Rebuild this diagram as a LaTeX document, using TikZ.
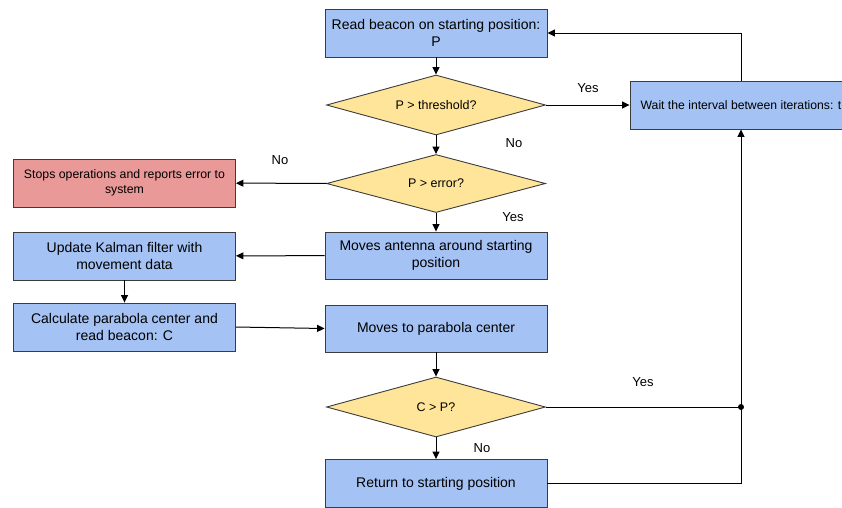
\documentclass[tikz,border=0pt]{standalone}
\usepackage{fontspec}
\setmainfont{Liberation Sans}
\usetikzlibrary{shapes.geometric,arrows.meta}
\definecolor{boxblue}{HTML}{A4C2F4}
\definecolor{askyellow}{HTML}{FFE599}
\definecolor{stopred}{HTML}{EA9999}
\definecolor{rim}{HTML}{3C3C3C}
\begin{document}
\begin{tikzpicture}[x=1pt,y=-1pt,
  stepbox/.style={draw=rim,fill=boxblue,line width=0.9pt,minimum width=222pt,minimum height=48pt,inner sep=2pt,align=center,font=\fontsize{14}{17}\selectfont},
  askbox/.style={diamond,aspect=3.6,draw=rim,fill=askyellow,line width=0.9pt,minimum width=219pt,minimum height=60pt,inner sep=0pt,font=\fontsize{12.5}{15}\selectfont},
  flow/.style={-{Triangle[length=7.5pt,width=7pt]},line width=1pt,draw=black},
  tag/.style={font=\fontsize{13}{15}\selectfont}]
\useasboundingbox (0,0) rectangle (842,507);

\node[stepbox] (read) at (436,33) {Read beacon on starting position:\\P};
\node[askbox] (thr) at (436,105) {P > threshold?};
\node[stepbox,font=\fontsize{12.2}{15}\selectfont] (wait) at (741,105) {Wait the interval between iterations: t};
\node[askbox,minimum height=58pt] (err) at (436,183.5) {P > error?};
\node[stepbox,fill=stopred,font=\fontsize{12.3}{15}\selectfont] (stop) at (124.5,183) {Stops operations and reports error to\\system};
\node[stepbox,minimum height=47pt] (ant) at (436,255.5) {Moves antenna around starting\\position};
\node[stepbox] (kal) at (124.5,256) {Update Kalman filter with\\movement data};
\node[stepbox] (calc) at (124.5,327) {Calculate parabola center and\\read beacon: C};
\node[stepbox,minimum height=47pt] (par) at (436,328.5) {Moves to parabola center};
\node[askbox] (cmp) at (436,407) {C > P?};
\node[stepbox] (ret) at (436,483.5) {Return to starting position};
\coordinate (join) at (wait.south |- cmp.east);

\node[tag] (yes1) at (588,88) {Yes};
\node[tag] (no1) at (514,143) {No};
\node[tag] (no2) at (280,160) {No};
\node[tag] (yes2) at (513,217) {Yes};
\node[tag] (yes3) at (643,382) {Yes};
\node[tag] (no3) at (482,448) {No};

\draw[flow] (read) -- (thr);
\draw[flow] (thr) -- (wait);
\draw[flow] (thr) -- (err);
\draw[flow] (err) -- (stop);
\draw[flow] (err) -- (ant);
\draw[flow] (ant) -- (kal);
\draw[flow] (kal) -- (calc);
\draw[flow] (calc.east) -- (par.west);
\draw[flow] (par) -- (cmp);
\draw[flow] (cmp) -- (ret);
\draw[line width=1pt] (cmp.east) -- (join);
\fill (join) circle (3pt);
\draw[flow] (ret.east) -| (join) -- (wait.south);
\draw[flow] (wait.north) |- (read.east);
\end{tikzpicture}
\end{document}
